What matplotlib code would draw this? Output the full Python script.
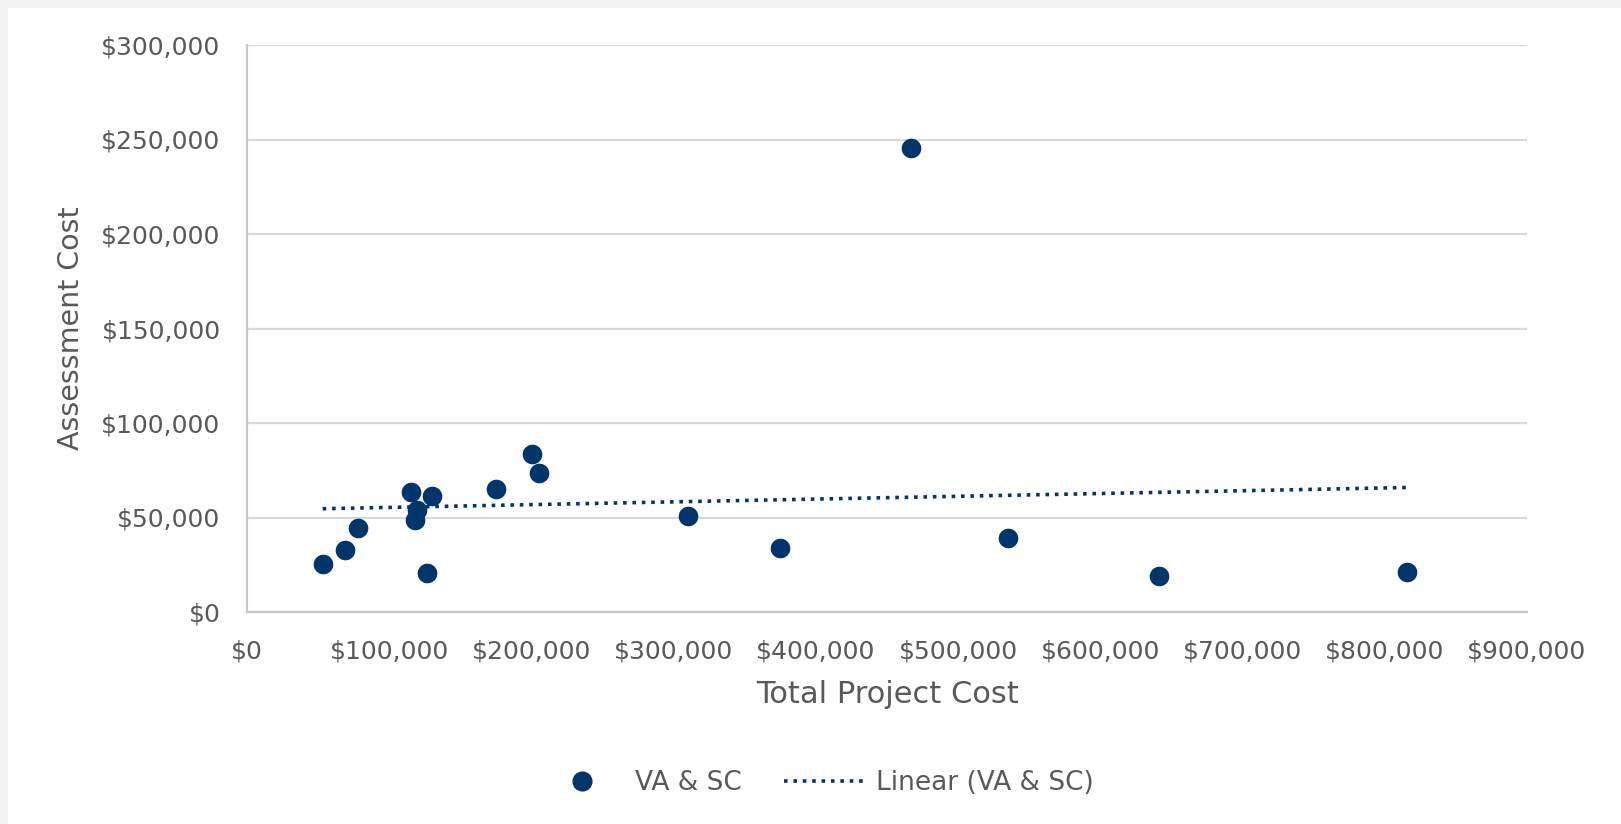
import numpy as np
import matplotlib.pyplot as plt
from matplotlib.ticker import FuncFormatter
from matplotlib.lines import Line2D
from matplotlib.patches import Rectangle

# Total project cost vs. assessment cost (USD)
total_cost = [53200, 68700, 77800, 115100, 119300, 118400, 129900, 126300,
              174800, 200600, 205500, 310000, 375000, 466700, 535000, 641000, 815600]
assess_cost = [25200, 32800, 44600, 63300, 54000, 48700, 61400, 20800,
               65100, 83600, 73400, 50900, 33900, 245300, 38900, 19200, 21300]

navy = '#02356A'
grey_text = '#595959'
grid_col = '#D9D9D9'

plt.rcParams['font.family'] = ['DejaVu Sans']

fig = plt.figure(figsize=(16.21, 8.24), dpi=100, facecolor='#F3F3F3')
# white chart area, leaving the thin grey strip on the left and top
fig.patches.append(Rectangle((8 / 1621, 0), 1, 1 - 8 / 824, transform=fig.transFigure,
                             facecolor='white', edgecolor='none', zorder=-5))

ax = fig.add_axes([247 / 1621, 1 - 612 / 824, 1280 / 1621, 567 / 824])
ax.set_facecolor('white')

ax.scatter(total_cost, assess_cost, s=200, color=navy, zorder=3, linewidths=0)

# least-squares trend line over the data range
x = np.array(total_cost, dtype=float)
y = np.array(assess_cost, dtype=float)
slope, intercept = np.polyfit(x, y, 1)
xs = np.array([x.min(), x.max()])
ax.plot(xs, slope * xs + intercept, color=navy, linestyle=(0, (1, 1.6)), linewidth=2.6, zorder=2)

ax.set_xlim(0, 900000)
ax.set_ylim(0, 300000)
ax.set_xticks(np.arange(0, 900001, 100000))
ax.set_yticks(np.arange(0, 300001, 50000))
money = FuncFormatter(lambda v, p: '${:,.0f}'.format(v))
ax.xaxis.set_major_formatter(money)
ax.yaxis.set_major_formatter(money)

ax.grid(axis='y', color=grid_col, linewidth=1.6, zorder=0)
ax.set_axisbelow(True)
for side in ['top', 'right']:
    ax.spines[side].set_visible(False)
ax.spines['left'].set_color('#C8C8C8')
ax.spines['left'].set_linewidth(1.6)
ax.spines['bottom'].set_color('#C8C8C8')
ax.spines['bottom'].set_linewidth(1.6)
ax.tick_params(length=0, labelsize=18, colors=grey_text)
ax.tick_params(axis='x', pad=20)
ax.tick_params(axis='y', pad=19)

ax.set_xlabel('Total Project Cost', fontsize=22, color=grey_text, labelpad=12)
ax.set_ylabel('Assessment Cost', fontsize=20.5, color=grey_text, labelpad=12)

handles = [
    Line2D([], [], marker='o', linestyle='none', markersize=13.5, color=navy),
    Line2D([], [], color=navy, linestyle=(0, (1, 1.6)), linewidth=2.6),
]
fig.legend(handles, ['VA & SC', 'Linear (VA & SC)'], loc='center', ncol=2,
           bbox_to_anchor=(818 / 1621, 1 - 783 / 824), frameon=False,
           fontsize=19, labelcolor=grey_text, handlelength=3.0, columnspacing=1.6,
           handletextpad=0.5)

fig.savefig('out.png', dpi=100, facecolor=fig.get_facecolor())
